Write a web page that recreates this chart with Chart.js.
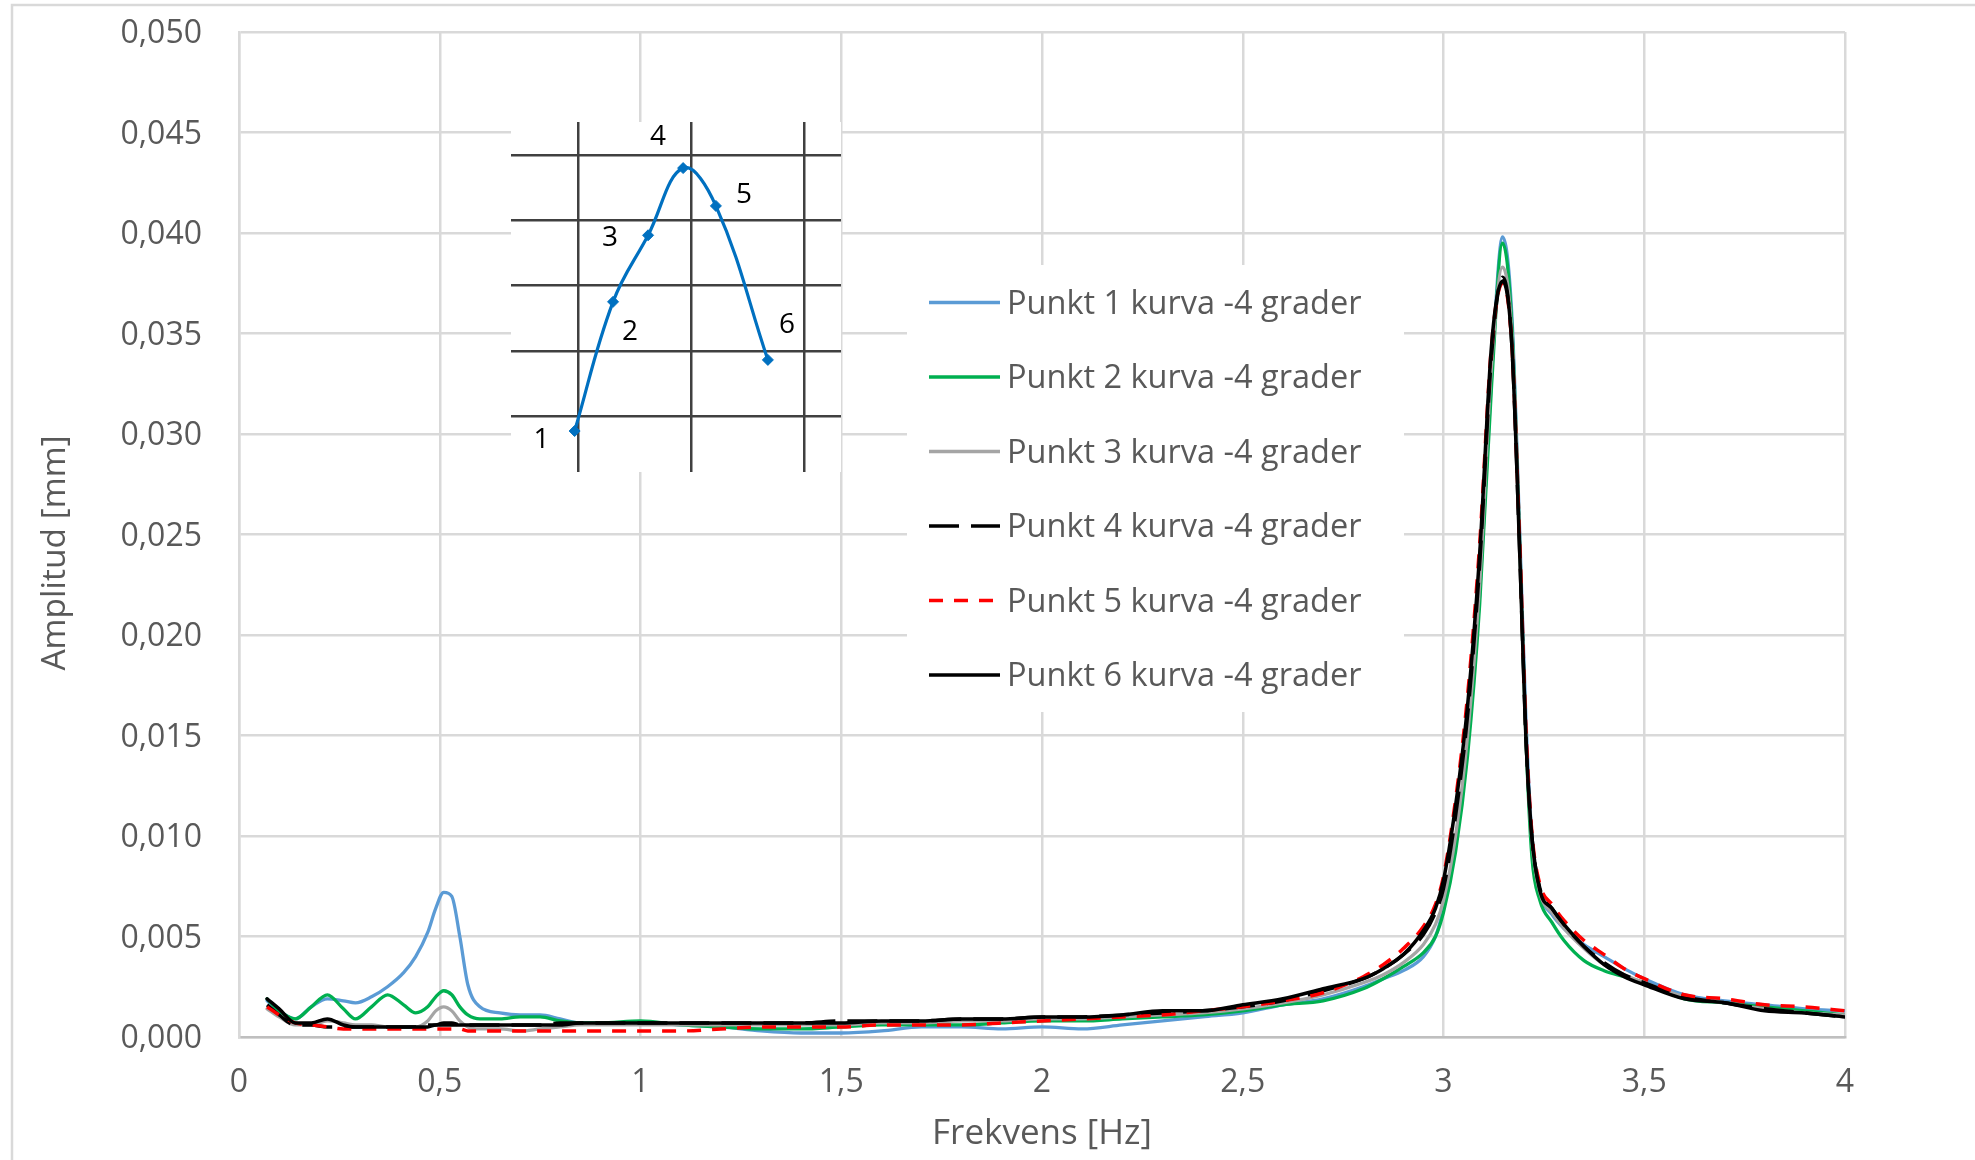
<!DOCTYPE html>
<html>
<head>
<meta charset="utf-8">
<script src="https://cdn.jsdelivr.net/npm/chart.js@4.4.1/dist/chart.umd.min.js"></script>
<style>
  html, body { margin: 0; padding: 0; background: #fff; }
  #wrap { position: relative; width: 1975px; height: 1160px; overflow: hidden; }
  #mainChart { position: absolute; left: 0; top: 0; width: 1975px; height: 1160px; }
  #insetChart { position: absolute; left: 511px; top: 122px; width: 330px; height: 350px; }
</style>
</head>
<body>
<div id="wrap">
  <canvas id="mainChart" width="1975" height="1160"></canvas>
  <canvas id="insetChart" width="330" height="350"></canvas>
</div>
<script>
// frequency axis shared by all six series (Hz)
const freq = [
  0.07, 0.1, 0.14, 0.18, 0.22, 0.26, 0.29, 0.33, 0.37, 0.41,
  0.44, 0.47, 0.49, 0.51, 0.53, 0.55, 0.57, 0.6, 0.65, 0.7,
  0.75, 0.8, 0.85, 0.9, 1.0, 1.1, 1.2, 1.3, 1.4, 1.5,
  1.6, 1.7, 1.8, 1.9, 2.0, 2.1, 2.2, 2.3, 2.4, 2.5,
  2.6, 2.7, 2.8, 2.85, 2.9, 2.95, 2.98, 3.0, 3.03, 3.06,
  3.09, 3.12, 3.147, 3.17, 3.19, 3.205, 3.22, 3.24, 3.27, 3.3,
  3.35, 3.4, 3.45, 3.5, 3.6, 3.7, 3.8, 3.9, 4.0
];

// amplitude (mm)
const punkt1 = [
  0.0018, 0.0013, 0.0009, 0.0015, 0.0019, 0.0018, 0.0017, 0.0020, 0.0025, 0.0032,
  0.0040, 0.0052, 0.0064, 0.0072, 0.0070, 0.0050, 0.0026, 0.0015, 0.0012, 0.0011,
  0.0011, 0.0009, 0.0007, 0.0007, 0.0007, 0.0006, 0.0005, 0.0003, 0.0002, 0.0002,
  0.0003, 0.0005, 0.0005, 0.0004, 0.0005, 0.0004, 0.0006, 0.0008, 0.0010, 0.0012,
  0.0016, 0.0019, 0.0025, 0.0029, 0.0033, 0.0040, 0.0050, 0.0064, 0.0095, 0.0145,
  0.0220, 0.0330, 0.0398, 0.0360, 0.0250, 0.0160, 0.0100, 0.0072, 0.0061, 0.0054,
  0.0046, 0.0040, 0.0034, 0.0029, 0.0021, 0.0018, 0.0016, 0.0014, 0.0013
];
const punkt2 = [
  0.0019, 0.0013, 0.0009, 0.0015, 0.0021, 0.0014, 0.0009, 0.0015, 0.0021, 0.0016,
  0.0012, 0.0015, 0.0020, 0.0023, 0.0021, 0.0015, 0.0011, 0.0009, 0.0009, 0.0010,
  0.0010, 0.0008, 0.0007, 0.0007, 0.0008, 0.0006, 0.0005, 0.0004, 0.0004, 0.0005,
  0.0006, 0.0006, 0.0006, 0.0007, 0.0008, 0.0008, 0.0009, 0.0010, 0.0011, 0.0013,
  0.0016, 0.0018, 0.0024, 0.0029, 0.0035, 0.0042, 0.0050, 0.0062, 0.0092, 0.0140,
  0.0215, 0.0325, 0.0395, 0.0355, 0.0245, 0.0150, 0.0090, 0.0068, 0.0057, 0.0048,
  0.0038, 0.0033, 0.0030, 0.0027, 0.0019, 0.0017, 0.0015, 0.0013, 0.0011
];
const punkt3 = [
  0.0014, 0.0010, 0.0006, 0.0006, 0.0008, 0.0007, 0.0006, 0.0006, 0.0005, 0.0005,
  0.0005, 0.0008, 0.0013, 0.0015, 0.0013, 0.0008, 0.0005, 0.0004, 0.0004, 0.0003,
  0.0004, 0.0005, 0.0006, 0.0006, 0.0006, 0.0006, 0.0006, 0.0006, 0.0006, 0.0006,
  0.0007, 0.0007, 0.0008, 0.0008, 0.0009, 0.0009, 0.0010, 0.0011, 0.0012, 0.0014,
  0.0017, 0.0021, 0.0027, 0.0031, 0.0037, 0.0046, 0.0056, 0.0068, 0.0100, 0.0150,
  0.0225, 0.0335, 0.0383, 0.0350, 0.0245, 0.0152, 0.0098, 0.0072, 0.0062, 0.0054,
  0.0044, 0.0036, 0.0031, 0.0027, 0.0020, 0.0017, 0.0014, 0.0012, 0.0011
];
const punkt4 = [
  0.0016, 0.0011, 0.0006, 0.0006, 0.0005, 0.0005, 0.0005, 0.0005, 0.0005, 0.0005,
  0.0005, 0.0006, 0.0006, 0.0007, 0.0007, 0.0006, 0.0006, 0.0006, 0.0006, 0.0006,
  0.0006, 0.0007, 0.0007, 0.0007, 0.0007, 0.0007, 0.0007, 0.0007, 0.0007, 0.0008,
  0.0008, 0.0008, 0.0009, 0.0009, 0.0010, 0.0010, 0.0011, 0.0012, 0.0013, 0.0015,
  0.0018, 0.0023, 0.0029, 0.0034, 0.0041, 0.0051, 0.0062, 0.0074, 0.0110, 0.0160,
  0.0235, 0.0340, 0.0378, 0.0345, 0.0240, 0.0150, 0.0100, 0.0074, 0.0064, 0.0056,
  0.0045, 0.0037, 0.0031, 0.0027, 0.0020, 0.0017, 0.0014, 0.0012, 0.0010
];
const punkt5 = [
  0.0015, 0.0011, 0.0007, 0.0006, 0.0005, 0.0004, 0.0004, 0.0004, 0.0004, 0.0004,
  0.0004, 0.0004, 0.0004, 0.0004, 0.0004, 0.0004, 0.0003, 0.0003, 0.0003, 0.0003,
  0.0003, 0.0003, 0.0003, 0.0003, 0.0003, 0.0003, 0.0004, 0.0005, 0.0005, 0.0005,
  0.0006, 0.0006, 0.0006, 0.0007, 0.0008, 0.0009, 0.0010, 0.0011, 0.0013, 0.0015,
  0.0018, 0.0022, 0.0030, 0.0036, 0.0044, 0.0055, 0.0066, 0.0080, 0.0118, 0.0170,
  0.0245, 0.0345, 0.0375, 0.0345, 0.0245, 0.0155, 0.0102, 0.0076, 0.0066, 0.0058,
  0.0048, 0.0041, 0.0034, 0.0029, 0.0021, 0.0019, 0.0016, 0.0015, 0.0013
];
const punkt6 = [
  0.0019, 0.0014, 0.0007, 0.0007, 0.0009, 0.0006, 0.0005, 0.0005, 0.0005, 0.0005,
  0.0005, 0.0005, 0.0006, 0.0006, 0.0006, 0.0006, 0.0006, 0.0006, 0.0006, 0.0006,
  0.0006, 0.0006, 0.0007, 0.0007, 0.0007, 0.0007, 0.0007, 0.0007, 0.0007, 0.0007,
  0.0008, 0.0008, 0.0009, 0.0009, 0.0010, 0.0010, 0.0011, 0.0013, 0.0013, 0.0016,
  0.0019, 0.0024, 0.0029, 0.0034, 0.0041, 0.0053, 0.0064, 0.0078, 0.0115, 0.0165,
  0.0240, 0.0345, 0.0376, 0.0345, 0.0240, 0.0150, 0.0100, 0.0073, 0.0064, 0.0056,
  0.0045, 0.0036, 0.0030, 0.0026, 0.0019, 0.0017, 0.0013, 0.0012, 0.0010
];

const seriesNames = [
  'Punkt 1 kurva -4 grader', 'Punkt 2 kurva -4 grader', 'Punkt 3 kurva -4 grader',
  'Punkt 4 kurva -4 grader', 'Punkt 5 kurva -4 grader', 'Punkt 6 kurva -4 grader'
];
const seriesValues = [punkt1, punkt2, punkt3, punkt4, punkt5, punkt6];

const xTicks = [0, 0.5, 1, 1.5, 2, 2.5, 3, 3.5, 4];
const yTicks = [0, 0.005, 0.01, 0.015, 0.02, 0.025, 0.03, 0.035, 0.04, 0.045, 0.05];

// inset sketch of the measuring points (grid units)
const insetX = [-0.03, 0.31, 0.62, 0.93, 1.22, 1.68];
const insetY = [-0.23, 1.75, 2.77, 3.80, 3.22, 0.86];
const insetLabels = ['1', '2', '3', '4', '5', '6'];
const insetGridX = [0, 1, 2];
const insetGridY = [0, 1, 2, 3, 4];

// styles
const seriesStyle = [
  { color: '#5B9BD5', width: 3.3, dash: [] },
  { color: '#00B050', width: 3.3, dash: [] },
  { color: '#A5A5A5', width: 3.3, dash: [] },
  { color: '#000000', width: 3.5, dash: [30, 12] },
  { color: '#FF0000', width: 3.5, dash: [14, 11] },
  { color: '#000000', width: 3.5, dash: [] }
];
const labelOffsets = [[-33, 9], [17, 30], [-38, 3], [-25, -31], [28, -11], [19, -35]];
const fontFamily = '"Open Sans", "Noto Sans", sans-serif';
const textGrey = '#595959';

const fmt = v => String(v).replace('.', ',');

const framePlugin = {
  id: 'frame',
  beforeDraw(chart) {
    const ctx = chart.ctx;
    ctx.save();
    ctx.fillStyle = '#fff';
    ctx.fillRect(0, 0, chart.width, chart.height);
    ctx.strokeStyle = '#D9D9D9';
    ctx.lineWidth = 2.5;
    ctx.strokeRect(12, 5, 4000, 4000);
    ctx.restore();
  },
  afterDraw(chart) {
    const ctx = chart.ctx;
    ctx.save();
    // y axis title
    ctx.translate(55, 553);
    ctx.rotate(-Math.PI / 2);
    ctx.font = '33.5px ' + fontFamily;
    ctx.fillStyle = textGrey;
    ctx.textAlign = 'center';
    ctx.textBaseline = 'middle';
    ctx.fillText('Amplitud [mm]', 0, 0);
    ctx.restore();

    // legend inside the plot
    ctx.save();
    ctx.fillStyle = '#fff';
    ctx.fillRect(907, 265, 497, 447);
    ctx.font = '32.5px ' + fontFamily;
    ctx.textBaseline = 'alphabetic';
    ctx.textAlign = 'left';
    chart.data.datasets.forEach((ds, i) => {
      const y = 302.5 + i * 74.5;
      ctx.beginPath();
      ctx.setLineDash(ds.borderDash || []);
      ctx.lineCap = 'butt';
      ctx.strokeStyle = ds.borderColor;
      ctx.lineWidth = ds.borderWidth;
      ctx.moveTo(929, y);
      ctx.lineTo(1000, y);
      ctx.stroke();
      ctx.setLineDash([]);
      ctx.fillStyle = textGrey;
      ctx.fillText(ds.label, 1007, y + 11);
    });
    ctx.restore();
  }
};

const mainChart = new Chart(document.getElementById('mainChart'), {
  type: 'line',
  data: {
    datasets: seriesNames.map((name, i) => ({
      label: name,
      data: freq.map((f, k) => ({ x: f, y: seriesValues[i][k] })),
      borderColor: seriesStyle[i].color,
      borderWidth: seriesStyle[i].width,
      borderDash: seriesStyle[i].dash,
      borderCapStyle: seriesStyle[i].dash.length ? 'butt' : 'round',
      borderJoinStyle: 'round',
      pointRadius: 0,
      cubicInterpolationMode: 'monotone',
      fill: false,
      order: seriesNames.length - i
    }))
  },
  options: {
    responsive: false,
    animation: false,
    devicePixelRatio: 1,
    layout: { autoPadding: false, padding: { top: 32, right: 130, left: 0, bottom: 0 } },
    plugins: { legend: { display: false }, tooltip: { enabled: false } },
    scales: {
      x: {
        type: 'linear', min: 0, max: 4,
        afterBuildTicks: s => { s.ticks = xTicks.map(v => ({ value: v })); },
        afterFit: s => { s.height = 123; s.paddingLeft = 0; s.paddingRight = 0; },
        grid: { color: '#D9D9D9', lineWidth: 2.5, drawTicks: false },
        border: { color: '#BFBFBF', width: 2.5 },
        ticks: { padding: 27, color: textGrey, font: { family: fontFamily, size: 32 }, callback: v => fmt(v), maxRotation: 0, autoSkip: false },
        title: { display: true, text: 'Frekvens [Hz]', color: textGrey, font: { family: fontFamily, size: 35 }, padding: { top: 0, bottom: 5 } }
      },
      y: {
        type: 'linear', min: 0, max: 0.05,
        afterBuildTicks: s => { s.ticks = yTicks.map(v => ({ value: v })); },
        afterFit: s => { s.width = 239; s.paddingTop = 0; s.paddingBottom = 0; },
        grid: { color: '#D9D9D9', lineWidth: 2.5, drawTicks: false },
        border: { color: '#D9D9D9', width: 2.5 },
        ticks: { padding: 37, labelOffset: 2, color: textGrey, font: { family: fontFamily, size: 32 }, callback: v => v.toFixed(3).replace('.', ','), autoSkip: false }
      }
    }
  },
  plugins: [framePlugin]
});

const insetPlugin = {
  id: 'insetDecor',
  beforeDraw(chart) {
    const ctx = chart.ctx;
    ctx.save();
    ctx.fillStyle = '#fff';
    ctx.fillRect(0, 0, chart.width, chart.height);
    ctx.restore();
  },
  afterDatasetsDraw(chart) {
    const ctx = chart.ctx;
    const meta = chart.getDatasetMeta(0);
    ctx.save();
    ctx.font = '28px ' + fontFamily;
    ctx.fillStyle = '#000';
    ctx.textAlign = 'center';
    ctx.textBaseline = 'middle';
    meta.data.forEach((pt, i) => {
      ctx.fillText(insetLabels[i], pt.x + labelOffsets[i][0], pt.y + labelOffsets[i][1]);
    });
    ctx.restore();
  }
};

const insetChart = new Chart(document.getElementById('insetChart'), {
  type: 'line',
  data: {
    datasets: [{
      data: insetX.map((x, i) => ({ x: x, y: insetY[i] })),
      borderColor: '#0070C0',
      borderWidth: 3.2,
      tension: 0.4,
      pointStyle: 'rectRot',
      pointRadius: 5.5,
      pointBackgroundColor: '#0070C0',
      pointBorderColor: '#0070C0',
      pointBorderWidth: 1,
      fill: false
    }]
  },
  options: {
    responsive: false,
    animation: false,
    devicePixelRatio: 1,
    layout: { autoPadding: false, padding: 0 },
    plugins: { legend: { display: false }, tooltip: { enabled: false } },
    scales: {
      x: {
        type: 'linear', min: -0.593, max: 2.327,
        afterBuildTicks: s => { s.ticks = insetGridX.map(v => ({ value: v })); },
        afterFit: s => { s.height = 0; s.paddingLeft = 0; s.paddingRight = 0; },
        ticks: { display: false },
        grid: { color: '#404040', lineWidth: 2.5, drawTicks: false },
        border: { display: false }
      },
      y: {
        type: 'linear', min: -0.858, max: 4.506,
        afterBuildTicks: s => { s.ticks = insetGridY.map(v => ({ value: v })); },
        afterFit: s => { s.width = 0; s.paddingTop = 0; s.paddingBottom = 0; },
        ticks: { display: false },
        grid: { color: '#404040', lineWidth: 2.5, drawTicks: false },
        border: { display: false }
      }
    }
  },
  plugins: [insetPlugin]
});
</script>
</body>
</html>
